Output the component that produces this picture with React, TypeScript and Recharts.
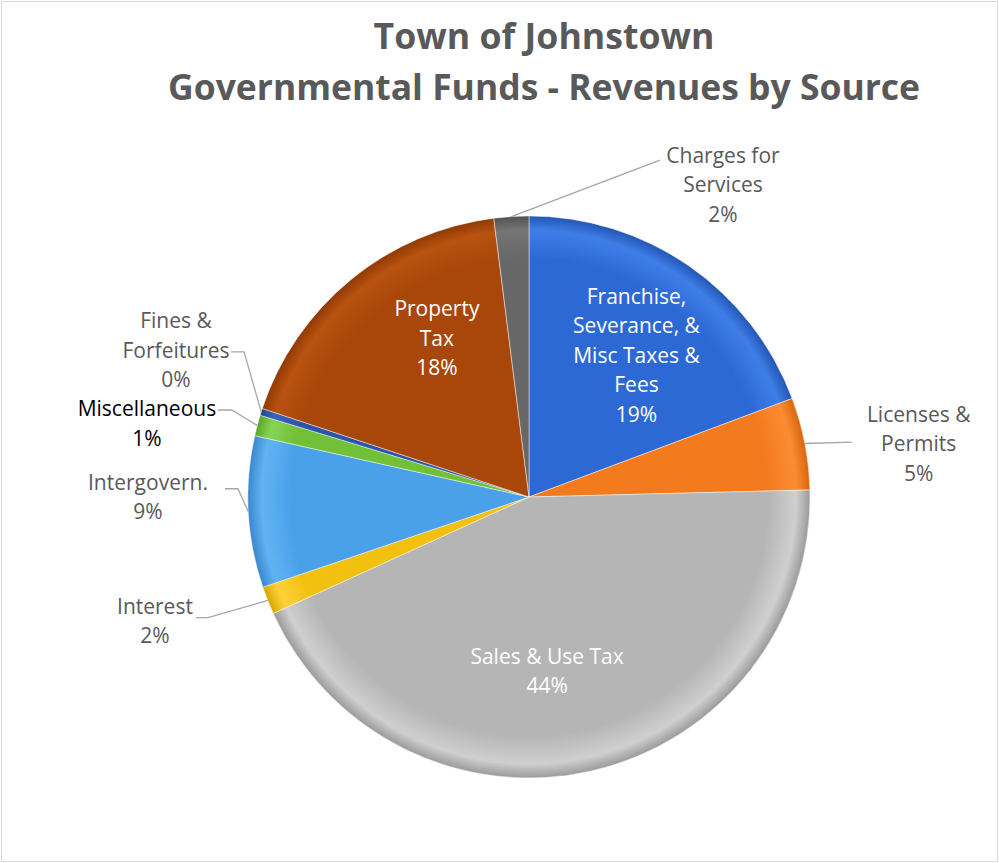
import React from 'react';
import { Cell, Pie, PieChart } from 'recharts';

const categories = [
  'Franchise, Severance, & Misc Taxes & Fees',
  'Licenses & Permits',
  'Sales & Use Tax',
  'Interest',
  'Intergovern.',
  'Miscellaneous',
  'Fines & Forfeitures',
  'Property Tax',
  'Charges for Services',
];
const shares = [19.3, 5.3, 43.6, 1.6, 8.7, 1.2, 0.4, 17.9, 2.0];
const labelLines = [
  ['Franchise,', 'Severance, &', 'Misc Taxes &', 'Fees'],
  ['Licenses &', 'Permits'],
  ['Sales & Use Tax'],
  ['Interest'],
  ['Intergovern.'],
  ['Miscellaneous'],
  ['Fines &', 'Forfeitures'],
  ['Property', 'Tax'],
  ['Charges for', 'Services'],
];
const titleLines = ['Town of Johnstown', 'Governmental Funds - Revenues by Source'];

// [rim highlight, base, rim shadow]
const sliceColors = [
  ['#3f7ee8', '#2d69d5', '#2256b4'],
  ['#fb8c34', '#f47a1e', '#d8650f'],
  ['#cfcfcf', '#b5b5b5', '#9a9a9a'],
  ['#ffd13a', '#f2c00e', '#d6a600'],
  ['#62b3f2', '#4aa1ea', '#3988cf'],
  ['#86d452', '#72c038', '#5aa326'],
  ['#3a65bb', '#2b55a8', '#20458c'],
  ['#b9520f', '#a9460a', '#903a06'],
  ['#767676', '#676767', '#525252'],
];

const data = categories.map((name, i) => ({ name, value: shares[i] }));

type LabelSpot = {
  inside: boolean;
  k: number;
  shift: number;
  lineEnd?: [number, number];
  elbow?: number;
  color?: string;
};

// where each label sits: radius factor and angular shift (clockwise deg) from the slice middle
const labelSpots: LabelSpot[] = [
  { inside: true, k: 0.635, shift: 2.3 },
  { inside: false, k: 1.4, shift: 3.1, lineEnd: [-67, -1] },
  { inside: true, k: 0.62, shift: 7 },
  { inside: false, k: 1.402, shift: 3.3, lineEnd: [41, -3], elbow: 12 },
  { inside: false, k: 1.356, shift: 3.1, lineEnd: [77, -8], elbow: 13 },
  { inside: false, k: 1.385, shift: -3.8, lineEnd: [71, -13], elbow: 14, color: '#000000' },
  { inside: false, k: 1.361, shift: 5, lineEnd: [55, 2], elbow: 13 },
  { inside: true, k: 0.655, shift: 9.4 },
  { inside: false, k: 1.31, shift: 35.4, lineEnd: [-63, -24] },
];

const FONT = '"Open Sans", "Noto Sans", sans-serif';
const LINE_H = 29.5;

const polar = (cx: number, cy: number, r: number, clockDeg: number) => {
  const a = (clockDeg * Math.PI) / 180;
  return { x: cx + r * Math.sin(a), y: cy - r * Math.cos(a) };
};

const renderLabel = (props: any) => {
  const { cx, cy, midAngle, outerRadius, index, percent } = props;
  const spot = labelSpots[index];
  const clockDeg = 90 - midAngle;
  const center = polar(cx, cy, outerRadius * spot.k, clockDeg + spot.shift);
  const lines = [...labelLines[index], `${Math.round(percent * 100)}%`];
  const fill = spot.inside ? '#ffffff' : spot.color ?? '#595959';

  let leader = null;
  if (!spot.inside && spot.lineEnd) {
    const edge = polar(cx, cy, outerRadius, clockDeg);
    const end = { x: center.x + spot.lineEnd[0], y: center.y + spot.lineEnd[1] };
    const pts = [edge];
    if (spot.elbow) pts.push({ x: end.x + spot.elbow, y: end.y });
    pts.push(end);
    leader = (
      <polyline
        points={pts.map((p) => `${p.x},${p.y}`).join(' ')}
        fill="none"
        stroke="#a6a6a6"
        strokeWidth={1.3}
      />
    );
  }

  return (
    <g key={`label-${index}`}>
      {leader}
      {lines.map((line, i) => (
        <text
          key={i}
          x={center.x}
          y={center.y + (i - (lines.length - 1) / 2) * LINE_H}
          textAnchor="middle"
          dominantBaseline="central"
          fill={fill}
          fontFamily={FONT}
          fontSize={21}
        >
          {line}
        </text>
      ))}
    </g>
  );
};

export default function App() {
  return (
    <div style={{ position: 'absolute', left: 0, top: 0, width: 999, height: 863, background: '#ffffff' }}>
      <div
        style={{
          position: 'absolute',
          left: 1,
          top: 1,
          width: 997,
          height: 861,
          border: '1px solid #d9d9d9',
          boxSizing: 'border-box',
        }}
      />
      <svg width={999} height={120} style={{ position: 'absolute', left: 0, top: 0 }}>
        <text
          x={544}
          y={49}
          textAnchor="middle"
          fill="#595959"
          fontFamily={FONT}
          fontWeight={700}
          fontSize={35}
          textLength={341}
          lengthAdjust="spacingAndGlyphs"
        >
          {titleLines[0]}
        </text>
        <text
          x={544}
          y={100}
          textAnchor="middle"
          fill="#595959"
          fontFamily={FONT}
          fontWeight={700}
          fontSize={35}
          textLength={752}
          lengthAdjust="spacingAndGlyphs"
        >
          {titleLines[1]}
        </text>
      </svg>
      <div style={{ position: 'absolute', left: 0, top: 0 }}>
        <PieChart width={999} height={863} margin={{ top: 0, right: 0, bottom: 0, left: 0 }}>
          <defs>
            {sliceColors.map((c, i) => (
              <radialGradient key={i} id={`slice-${i}`} gradientUnits="userSpaceOnUse" cx={529} cy={497} r={281}>
                <stop offset="0%" stopColor={c[1]} />
                <stop offset="85%" stopColor={c[1]} />
                <stop offset="95%" stopColor={c[0]} />
                <stop offset="100%" stopColor={c[2]} />
              </radialGradient>
            ))}
          </defs>
          <Pie
            data={data}
            dataKey="value"
            nameKey="name"
            cx={529}
            cy={497}
            innerRadius={0}
            outerRadius={281}
            startAngle={90}
            endAngle={-270}
            stroke="rgba(255,255,255,0.45)"
            strokeWidth={1}
            label={renderLabel}
            labelLine={false}
            isAnimationActive={false}
          >
            {data.map((d, i) => (
              <Cell key={d.name} fill={`url(#slice-${i})`} />
            ))}
          </Pie>
        </PieChart>
      </div>
    </div>
  );
}
